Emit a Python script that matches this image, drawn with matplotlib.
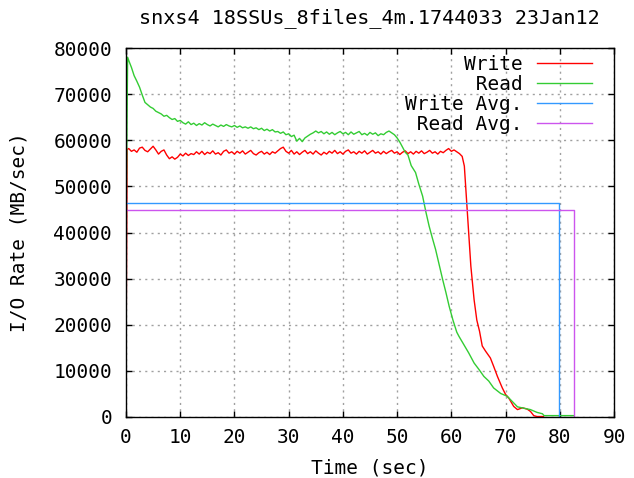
import numpy as np
import matplotlib
matplotlib.use('Agg')
import matplotlib.pyplot as plt

# temps (sec) et debit d'ecriture (MB/sec)
write_t = [0.0, 0.2, 0.5, 1.0, 1.5, 2.0, 2.5, 3.0, 3.5, 4.0, 4.5, 5.0, 5.5, 6.0, 6.5, 7.0,
           7.5, 8.0, 8.5, 9.0, 9.5, 10.0, 10.5, 11.0, 11.5, 12.0, 12.5, 13.0, 13.5, 14.0,
           14.5, 15.0, 15.5, 16.0, 16.5, 17.0, 17.5, 18.0, 18.5, 19.0, 19.5, 20.0, 20.5,
           21.0, 21.5, 22.0, 22.5, 23.0, 23.5, 24.0, 24.5, 25.0, 25.5, 26.0, 26.5, 27.0,
           27.5, 28.0, 28.5, 29.0, 29.5, 30.0, 30.5, 31.0, 31.5, 32.0, 32.5, 33.0, 33.5,
           34.0, 34.5, 35.0, 35.5, 36.0, 36.5, 37.0, 37.5, 38.0, 38.5, 39.0, 39.5, 40.0,
           40.5, 41.0, 41.5, 42.0, 42.5, 43.0, 43.5, 44.0, 44.5, 45.0, 45.5, 46.0, 46.5,
           47.0, 47.5, 48.0, 48.5, 49.0, 49.5, 50.0, 50.5, 51.0, 51.5, 52.0, 52.5, 53.0,
           53.5, 54.0, 54.5, 55.0, 55.5, 56.0, 56.5, 57.0, 57.5, 58.0, 58.5, 59.0, 59.5,
           60.0, 60.5, 61.0, 61.5, 62.0, 62.4, 62.8, 63.2, 63.6, 64.2, 64.7, 65.2, 65.7,
           66.3, 67.2, 67.8, 68.5, 69.4, 70.0, 70.6, 71.5, 72.2, 73.1, 74.0, 74.6, 75.2,
           75.8, 77.0]
write_v = [9000, 58000, 58200, 57600, 57900, 57400, 58300, 58500, 57800, 57500, 58100,
           58700, 57900, 57000, 57600, 57900, 56800, 56000, 56400, 55900, 56300, 57000,
           56600, 57200, 56700, 57100, 56900, 57500, 57000, 57600, 56900, 57400, 57100,
           57700, 57000, 57300, 56800, 57600, 57900, 57200, 57500, 57000, 57600, 57200,
           57700, 57000, 57400, 57800, 57100, 56800, 57300, 57600, 57000, 57400, 56900,
           57500, 57200, 57700, 58200, 58500, 57600, 57200, 57800, 57000, 57500, 56900,
           57400, 57800, 57100, 57500, 57000, 57700, 57200, 56800, 57400, 57000, 57600,
           57200, 57800, 57100, 57500, 57000, 57600, 57900, 57200, 57500, 57000, 57600,
           57200, 57700, 57000, 57400, 57800, 57200, 57500, 57000, 57600, 57100, 57500,
           57800, 57200, 57500, 56900, 57400, 57700, 57100, 57500, 57000, 57600, 57200,
           57700, 57100, 57400, 57800, 57200, 57500, 57000, 57600, 57300, 57800, 58200,
           57600, 57900, 57500, 57100, 56500, 54400, 47200, 39900, 32700, 25400, 21000,
           18600, 15400, 14300, 12800, 11000, 8800, 6300, 4900, 4100, 2300, 1600, 2000,
           1700, 1200, 300, 100, 100]

# temps (sec) et debit de lecture (MB/sec)
read_t = [0.0, 0.3, 0.6, 1.0, 1.5, 2.0, 2.5, 3.0, 3.5, 4.0, 4.5, 5.0, 5.5, 6.0, 6.5, 7.0,
          7.5, 8.0, 8.5, 9.0, 9.5, 10.0, 10.5, 11.0, 11.5, 12.0, 12.5, 13.0, 13.5, 14.0,
          14.5, 15.0, 15.5, 16.0, 16.5, 17.0, 17.5, 18.0, 18.5, 19.0, 19.5, 20.0, 20.5,
          21.0, 21.5, 22.0, 22.5, 23.0, 23.5, 24.0, 24.5, 25.0, 25.5, 26.0, 26.5, 27.0,
          27.5, 28.0, 28.5, 29.0, 29.5, 30.0, 30.5, 31.0, 31.5, 32.0, 32.5, 33.0, 33.5,
          34.0, 34.5, 35.0, 35.5, 36.0, 36.5, 37.0, 37.5, 38.0, 38.5, 39.0, 39.5, 40.0,
          40.5, 41.0, 41.5, 42.0, 42.5, 43.0, 43.5, 44.0, 44.5, 45.0, 45.5, 46.0, 46.5,
          47.0, 47.5, 48.0, 48.5, 49.0, 49.5, 50.0, 50.5, 51.0, 51.5, 52.0, 52.6, 53.4,
          54.0, 54.7, 55.3, 55.9, 56.5, 57.1, 57.8, 58.4, 59.0, 59.6, 60.3, 61.0, 61.4,
          62.3, 63.2, 64.2, 65.1, 66.0, 66.9, 67.8, 69.1, 70.3, 71.2, 72.2, 73.4, 74.6,
          75.8, 76.8, 77.1, 82.6]
read_v = [41000, 78000, 77000, 75800, 74000, 72800, 71500, 69800, 68200, 67700, 67200,
          66900, 66300, 66000, 65700, 65200, 65400, 64900, 64500, 64700, 64100, 64300,
          63800, 63500, 64000, 63400, 63700, 63200, 63600, 63300, 63800, 63400, 63100,
          63500, 63200, 62900, 63300, 63000, 63400, 63100, 62900, 63200, 62800, 63100,
          62700, 62900, 62600, 62900, 62500, 62700, 62300, 62600, 62100, 62400, 62000,
          62300, 61800, 61900, 61500, 61800, 61200, 61400, 60800, 61100, 59800, 60400,
          59700, 60500, 60900, 61300, 61600, 62000, 61600, 61900, 61400, 61800, 61300,
          61700, 61200, 61600, 61900, 61400, 61700, 61200, 61800, 61300, 61600, 61900,
          61200, 61500, 61100, 61700, 61300, 61600, 61000, 61400, 61200, 61700, 62000,
          61600, 61200, 60500, 59600, 58500, 57400, 56800, 54500, 53000, 50500, 47900,
          44500, 41400, 38800, 36300, 32800, 29800, 27000, 24000, 21000, 18400, 17500,
          15700, 13900, 11700, 10300, 8800, 7800, 6300, 5100, 4500, 3400, 2200, 1900,
          1600, 1000, 700, 300, 300]

# moyennes et durees
write_avg = 46450
write_end = 79.85
read_avg = 44780
read_end = 82.7

plt.rcParams['font.family'] = 'DejaVu Sans Mono'
plt.rcParams['font.size'] = 14

fig = plt.figure(figsize=(6.34, 4.78), dpi=100)
ax = fig.add_axes([126 / 634, 61 / 478, 488 / 634, 369 / 478])

ax.plot(write_t, write_v, color='#ff0000', lw=1.0, label='    Write')
ax.plot(read_t, read_v, color='#33cc33', lw=1.0, label='     Read')
ax.plot([0, write_end, write_end], [write_avg, write_avg, 0], color='#3399ff', lw=1.0,
        label='Write Avg.')
ax.plot([0, read_end, read_end], [read_avg, read_avg, 0], color='#cc55ee', lw=1.0,
        label=' Read Avg.')

ax.set_xlim(0, 90)
ax.set_ylim(0, 80000)
ax.set_xticks(np.arange(0, 91, 10))
ax.set_yticks(np.arange(0, 80001, 10000))
ax.tick_params(direction='in', length=4.5, width=1, top=True, right=True,
               colors='black', labelsize=14)
ax.tick_params(axis='y', pad=10)
ax.tick_params(axis='x', pad=8)
ax.grid(True, color='#a0a0a0', lw=1, linestyle=(0, (1.5, 3)))
for s in ax.spines.values():
    s.set_linewidth(1)
    s.set_color('black')

ax.set_xlabel('Time (sec)')
ax.set_ylabel('I/O Rate (MB/sec)')
ax.xaxis.set_label_coords(0.5, -0.112)
ax.yaxis.set_label_coords(-0.2, 0.5)

fig.text(369 / 634, 1 - 18 / 478, 'snxs4 18SSUs_8files_4m.1744033 23Jan12',
         ha='center', va='center', fontsize=14.5)

ax.legend(loc='upper right', bbox_to_anchor=(0.955, 0.982), frameon=False,
          markerfirst=False, handlelength=2.85, handletextpad=0.72,
          labelspacing=0.05, borderpad=0, borderaxespad=0, fontsize=14)

plt.savefig('out.png', dpi=100)
